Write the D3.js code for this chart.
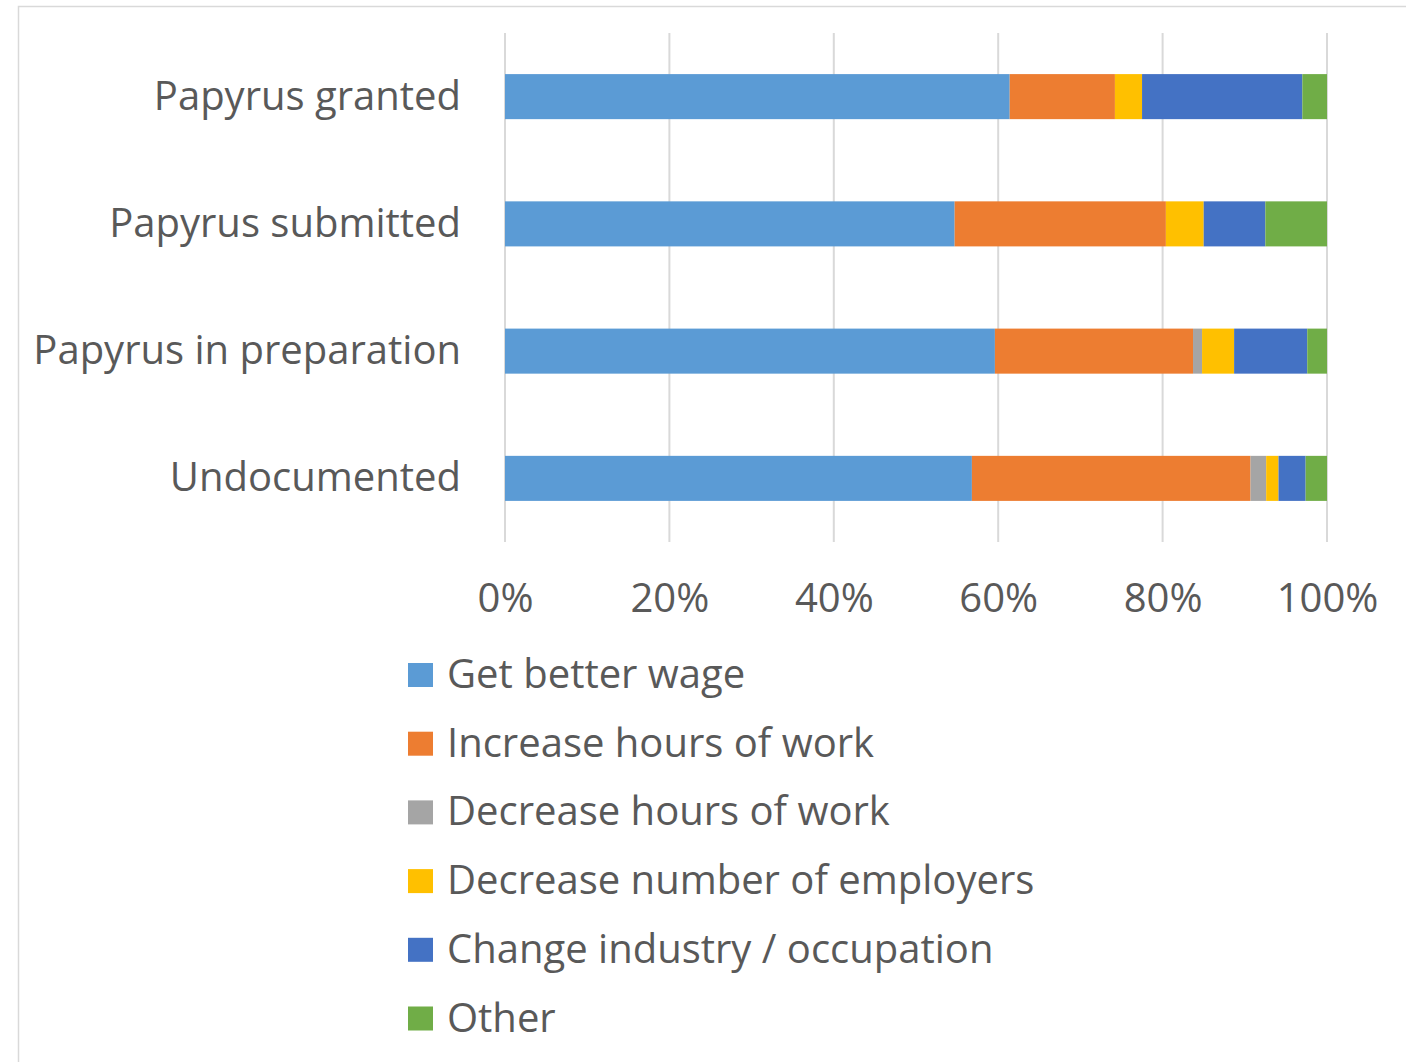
<!DOCTYPE html>
<html><head><meta charset="utf-8">
<script src="https://cdn.jsdelivr.net/npm/d3@7"></script>
<style>body{margin:0;background:#fff;} svg{display:block;}</style>
</head><body>
<svg id="chart" width="1406" height="1062"></svg>
<script>
const categories = ["Papyrus granted","Papyrus submitted","Papyrus in preparation","Undocumented"];
const seriesNames = ["Get better wage","Increase hours of work","Decrease hours of work","Decrease number of employers","Change industry / occupation","Other"];
const seriesColors = ["#5B9BD5","#ED7D31","#A5A5A5","#FFC000","#4472C4","#70AD47"];
const getBetterWage      = [61.4, 54.7, 59.6, 56.8];
const increaseHours      = [12.8, 25.7, 24.1, 33.9];
const decreaseHours      = [0.0, 0.0, 1.1, 1.9];
const decreaseEmployers  = [3.3, 4.6, 3.9, 1.5];
const changeIndustry     = [19.5, 7.5, 8.9, 3.3];
const other              = [3.0, 7.5, 2.4, 2.6];
const tickValues = [0, 20, 40, 60, 80, 100];
const tickLabels = ["0%","20%","40%","60%","80%","100%"];

const seriesValues = [getBetterWage, increaseHours, decreaseHours, decreaseEmployers, changeIndustry, other];
const rows = categories.map((c, i) => {
  const r = {category: c};
  seriesNames.forEach((s, j) => r[s] = seriesValues[j][i]);
  return r;
});
const stacked = d3.stack().keys(seriesNames).offset(d3.stackOffsetExpand)(rows);

const svg = d3.select("#chart");
const font = "'Open Sans', sans-serif";
const fontSize = 40;
const textColor = "#595959";

// outer border
svg.append("rect").attr("x", 18.5).attr("y", 6.5).attr("width", 1400).attr("height", 1070)
  .attr("fill", "none").attr("stroke", "#d9d9d9").attr("stroke-width", 1.5);

const x = d3.scaleLinear().domain([0, 1]).range([505, 1327]);
const y = d3.scaleBand().domain(categories).range([33, 542]).paddingInner(0.646).paddingOuter(0.323);

// gridlines
svg.append("g").selectAll("line").data(tickValues).join("line")
  .attr("x1", d => x(d / 100)).attr("x2", d => x(d / 100))
  .attr("y1", 33).attr("y2", 542)
  .attr("stroke", "#d9d9d9").attr("stroke-width", 2);

// bars
svg.append("g").selectAll("g").data(stacked).join("g")
  .attr("fill", (d, i) => seriesColors[i])
  .selectAll("rect").data(d => d).join("rect")
  .attr("x", d => x(d[0]))
  .attr("width", d => Math.max(0, x(d[1]) - x(d[0])))
  .attr("y", d => y(d.data.category))
  .attr("height", y.bandwidth());

// category labels
svg.append("g").selectAll("text").data(categories).join("text")
  .attr("x", 461).attr("y", d => y(d) + y.bandwidth() / 2 + 13)
  .attr("text-anchor", "end").attr("font-family", font).attr("font-size", fontSize)
  .attr("fill", textColor).text(d => d);

// x axis tick labels
const xAxis = d3.axisBottom(x).tickValues(tickValues.map(v => v / 100))
  .tickFormat((d, i) => tickLabels[i]).tickSize(0).tickPadding(0);
const gx = svg.append("g").attr("transform", "translate(0,584)").call(xAxis);
gx.select(".domain").remove();
gx.selectAll("text").attr("font-family", font).attr("font-size", fontSize)
  .attr("fill", textColor).attr("dy", "0.71em");

// legend
const legend = svg.append("g").selectAll("g").data(seriesNames).join("g")
  .attr("transform", (d, i) => `translate(408, ${675 + i * 68.7})`);
legend.append("rect").attr("x", 0).attr("y", -12).attr("width", 25).attr("height", 24)
  .attr("fill", (d, i) => seriesColors[i]);
legend.append("text").attr("x", 39).attr("y", 13)
  .attr("font-family", font).attr("font-size", fontSize).attr("fill", textColor).text(d => d);
</script>
</body></html>
